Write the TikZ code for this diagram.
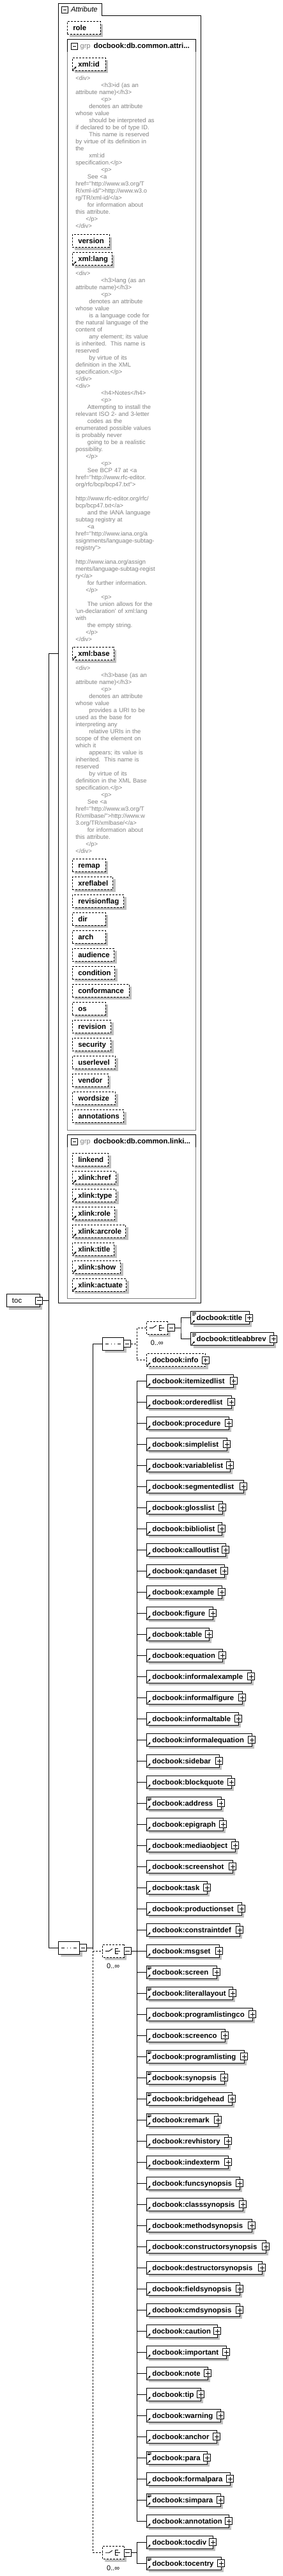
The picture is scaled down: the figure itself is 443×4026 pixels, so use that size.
\documentclass[tikz,border=0pt]{standalone}
\usepackage{fontspec}
\setmainfont{Liberation Sans}[Ligatures=TeXOff]
\usetikzlibrary{positioning,shapes.misc,shadows,arrows.meta}

\definecolor{shadowgray}{RGB}{192,192,192}
\definecolor{docgray}{RGB}{128,128,128}

\newcommand\indA{\hspace*{21pt}}
\newcommand\indB{\hspace*{18.5pt}}
\newcommand\indP{\hspace*{16pt}}
\newcommand\indH{\hspace*{40pt}}

% marks inside the boxes
\newcommand\refmark[1]{\draw[line width=0.9pt, -{Triangle[length=2.6pt,width=3pt]}] ([xshift=1.2pt,yshift=1.2pt]#1.south west) -- ++(5,-5);}
\newcommand\txtmark[1]{\draw[line width=0.6pt] ([xshift=2pt,yshift=-2pt]#1.north west) -- ++(6,0) ([xshift=2pt,yshift=-3.6pt]#1.north west) -- ++(6,0) ([xshift=2pt,yshift=-5.2pt]#1.north west) -- ++(4,0);}

\begin{document}
\begin{tikzpicture}
	[
	x=1pt, y=-1pt,
	inner sep=0pt, outer sep=0pt,
	line width=0.9pt,
	boxshadow/.style={drop shadow={shadow xshift=4pt, shadow yshift=-4pt, fill=shadowgray, opacity=1}},
	elem/.style={draw, fill=white, minimum height=20pt, anchor=west, boxshadow},
	attr/.style={elem, dash pattern=on 3pt off 2pt, anchor=north west},
	optline/.style={dash pattern=on 3pt off 2pt},
	lbl/.style={anchor=west, text height=8pt, text depth=0pt, font=\bfseries\fontsize{11.4}{13}\selectfont},
	head/.style={anchor=base west, font=\bfseries\fontsize{11.4}{13}\selectfont},
	pm/.style={draw, fill=white, minimum size=11pt},
	minusbox/.style={pm, path picture={\draw ([xshift=2.3pt]path picture bounding box.west) -- ([xshift=-2.3pt]path picture bounding box.east);}},
	plusbox/.style={pm, path picture={\draw ([xshift=2.3pt]path picture bounding box.west) -- ([xshift=-2.3pt]path picture bounding box.east) ([yshift=-2.3pt]path picture bounding box.north) -- ([yshift=2.3pt]path picture bounding box.south);}},
	seq/.style={chamfered rectangle, chamfered rectangle xsep=5pt, draw, fill=white, minimum width=33.5pt, minimum height=19.5pt, boxshadow,
		path picture={
			\draw ([xshift=5pt]path picture bounding box.west) -- ([xshift=-4.5pt]path picture bounding box.east);
			\foreach \d in {-5,0,5} \fill ([xshift=\d pt]path picture bounding box.center) +(-1.6pt,-1.6pt) rectangle +(1.6pt,1.6pt);
		}},
	choice/.style={chamfered rectangle, chamfered rectangle xsep=5pt, draw, fill=white, optline, minimum width=33.5pt, minimum height=20pt, boxshadow,
		path picture={
			\path (path picture bounding box.center) coordinate (cc);
			\draw[solid] ([xshift=-12pt]cc) -- ([xshift=-6.5pt]cc) -- ([xshift=-1pt,yshift=3.8pt]cc);
			\foreach \d in {-4,0,4} \fill ([xshift=0.5pt,yshift=\d pt]cc) +(-1.5pt,-1.5pt) rectangle +(1.5pt,1.5pt);
			\draw[solid] ([xshift=7.5pt,yshift=4pt]cc) -- ([xshift=3.5pt,yshift=4pt]cc) -- ([xshift=3.5pt,yshift=-4pt]cc) -- ([xshift=7.5pt,yshift=-4pt]cc) ([xshift=3.5pt]cc) -- ([xshift=11pt]cc);
		}},
	occ/.style={font=\fontsize{11}{13}\selectfont, text height=8pt, text depth=0pt},
	doc/.style={anchor=north west, text width=185pt, align=left, text=docgray, font=\fontsize{9.4}{11}\selectfont}
	]
	\useasboundingbox (0,0) rectangle (443,4026);

	% attributes
	\draw (91.3,2036) -- (91.3,5.3) -- (159,5.3) -- (159,24.3) -- (314.7,24.3) -- (314.7,2036) -- cycle;
	\node (attm) [minusbox, minimum size=10pt] at (101.7,15.3) {};
	\node (attt) [anchor=base west, font=\itshape\fontsize{11.2}{13}\selectfont] at (111,18.7) {Attribute};
	\coordinate (attin) at (91.3,1021.7);

	\node (role) [attr, minimum width=51.7pt, anchor=north west] at (105.3,33.7) {};
	\node (rolet) [lbl] at ([xshift=9pt]role.west) {role};

	% group db.common.attributes
	\draw [docgray] (105.3,81) -- (105.3,1766) -- (306.3,1766) -- (306.3,81);
	\draw (105.3,81) -- (105.3,61.3) -- (306.3,61.3) -- (306.3,81);
	\node (gam) [minusbox, minimum size=10pt] at (116.3,72) {};
	\node (gak) [anchor=base west, text=docgray, font=\fontsize{11}{13}\selectfont] at (125.7,75) {grp};
	\node (gan) [head] at (146.7,75) {docbook:db.common.attri...};

	\node (xid) [attr, minimum width=51.7pt] at (113.3,90.3) {};
	\node (xidt) [lbl] at ([xshift=9pt]xid.west) {xml:id};
	\refmark{xid}
	\node (xiddoc) [doc] at (118.3,118.1) {\strut<div>\\
\indH<h3>id (as an\\
attribute name)</h3>\\
\indH<p>\\
\indA denotes an attribute\\
whose value\\
\indA should be interpreted as\\
if declared to be of type ID.\\
\indA This name is reserved\\
by virtue of its definition in\\
the\\
\indA xml:id\\
specification.</p>\\
\indH<p>\\
\indB See <a\\
href="http://www.w3.org/T\\
R/xml-id/">http://www.w3.o\\
rg/TR/xml-id/</a>\\
\indB for information about\\
this attribute.\\
\indP</p>\\
</div>};

	\node (ver) [attr, minimum width=57.7pt] at (113.3,366.7) {};
	\node (vert) [lbl] at ([xshift=9pt]ver.west) {version};

	\node (xlang) [attr, minimum width=61.7pt] at (113.3,394.7) {};
	\node (xlangt) [lbl] at ([xshift=9pt]xlang.west) {xml:lang};
	\refmark{xlang}
	\node (xlangdoc) [doc] at (118.3,422.5) {\strut<div>\\
\indH<h3>lang (as an\\
attribute name)</h3>\\
\indH<p>\\
\indA denotes an attribute\\
whose value\\
\indA is a language code for\\
the natural language of the\\
content of\\
\indA any element; its value\\
is inherited.\ \ This name is\\
reserved\\
\indA by virtue of its\\
definition in the XML\\
specification.</p>\\
</div>\\
<div>\\
\indH<h4>Notes</h4>\\
\indH<p>\\
\indB Attempting to install the\\
relevant ISO 2- and 3-letter\\
\indB codes as the\\
enumerated possible values\\
is probably never\\
\indB going to be a realistic\\
possibility.\\
\indP</p>\\
\indH<p>\\
\indB See BCP 47 at <a\\
href="http://www.rfc-editor.\\
org/rfc/bcp/bcp47.txt">\\
\mbox{}\\
http://www.rfc-editor.org/rfc/\\
bcp/bcp47.txt</a>\\
\indB and the IANA language\\
subtag registry at\\
\indB <a\\
href="http://www.iana.org/a\\
ssignments/language-subtag-\\
registry">\\
\mbox{}\\
http://www.iana.org/assign\\
ments/language-subtag-regist\\
ry</a>\\
\indB for further information.\\
\indP</p>\\
\indH<p>\\
\indB The union allows for the\\
'un-declaration' of xml:lang\\
with\\
\indB the empty string.\\
\indP</p>\\
</div>};

	\node (xbase) [attr, minimum width=65pt] at (113.3,1011.7) {};
	\node (xbaset) [lbl] at ([xshift=9pt]xbase.west) {xml:base};
	\refmark{xbase}
	\node (xbasedoc) [doc] at (118.3,1039.5) {\strut<div>\\
\indH<h3>base (as an\\
attribute name)</h3>\\
\indH<p>\\
\indA denotes an attribute\\
whose value\\
\indA provides a URI to be\\
used as the base for\\
interpreting any\\
\indA relative URIs in the\\
scope of the element on\\
which it\\
\indA appears; its value is\\
inherited.\ \ This name is\\
reserved\\
\indA by virtue of its\\
definition in the XML Base\\
specification.</p>\\
\indH<p>\\
\indB See <a\\
href="http://www.w3.org/T\\
R/xmlbase/">http://www.w\\
3.org/TR/xmlbase/</a>\\
\indB for information about\\
this attribute.\\
\indP</p>\\
</div>};

	\foreach \nm/\rt [count=\i from 0] in {remap/165, xreflabel/176.7, revisionflag/193.7, dir/165, arch/165, audience/178.7, condition/179.7, conformance/202, os/165, revision/173.7, security/173.7, userlevel/180.7, vendor/169, wordsize/180.7, annotations/193.7}{
		\node (ga\i) [attr, minimum width=\rt-113.3] at (113.3,1342.3+28*\i) {};
		\node (gat\i) [lbl] at ([xshift=9pt]ga\i.west) {\nm};
	}

	% group db.common.linking.attributes
	\draw [docgray] (105.3,1793) -- (105.3,2029.3) -- (306.3,2029.3) -- (306.3,1793);
	\draw (105.3,1793) -- (105.3,1773.3) -- (306.3,1773.3) -- (306.3,1793);
	\node (gbm) [minusbox, minimum size=10pt] at (116.3,1784) {};
	\node (gbk) [anchor=base west, text=docgray, font=\fontsize{11}{13}\selectfont] at (125.7,1787) {grp};
	\node (gbn) [head] at (146.7,1787) {docbook:db.common.linki...};
	\foreach \nm/\rt/\fl [count=\i from 0] in {linkend/169.7/0, xlink:href/181.7/1, xlink:type/181.7/1, xlink:role/179.7/1, xlink:arcrole/196.7/1, xlink:title/178.7/1, xlink:show/188.7/1, xlink:actuate/197.7/1}{
		\node (gb\i) [attr, minimum width=\rt-113.3] at (113.3,1802.3+28*\i) {};
		\node (gbt\i) [lbl] at ([xshift=9pt]gb\i.west) {\nm};
		\ifnum\fl=1 \refmark{gb\i}\fi
	}

	% toc and its sequence
	\node (toc) [elem, anchor=north west, minimum width=51.7pt, minimum height=20.4pt] at (10.3,2022.3) {};
	\node (toct) [lbl, font=\fontsize{11.4}{13}\selectfont] at ([xshift=8.7pt]toc.west) {toc};
	\node (tocm) [minusbox] at ([xshift=-0.7pt]toc.east) {};

	\node (mseq) [seq] at (108,3044.3) {};
	\node (mseqm) [minusbox, anchor=west] at (mseq.east) {};
	\coordinate (tb) at (76.7,2032.7);
	\coordinate (mb) at (145.3,3044.3);
	\draw (tocm.east) -- (tb);
	\draw (attin) -| (tb) |- (mseq.west);

	% title part
	\node (s1) [seq] at (177,2100.3) {};
	\node (s1m) [minusbox, anchor=west] at (s1.east) {};
	\draw (s1.west) -| (mb) -- (mseqm.east);

	\node (ch1) [choice] at (245.8,2075.3) {};
	\node (ch1m) [minusbox, anchor=west] at (ch1.east) {};
	\node (ch1n) [occ, below=9.3pt of ch1] {0..∞};

	\node (title) [elem, minimum width=91.6pt] at (298.7,2059.7) {};
	\node (titlet) [lbl] at ([xshift=9pt]title.west) {docbook:title};
	\node (titlep) [plusbox] at (title.east) {};
	\txtmark{title} \refmark{title}
	\node (tabbr) [elem, minimum width=129.6pt] at (298.7,2092.7) {};
	\node (tabbrt) [lbl] at ([xshift=9pt]tabbr.west) {docbook:titleabbrev};
	\node (tabbrp) [plusbox] at (tabbr.east) {};
	\txtmark{tabbr} \refmark{tabbr}

	\node (info) [elem, optline, minimum width=92.4pt] at (229.3,2125.7) {};
	\node (infot) [lbl] at ([xshift=9pt]info.west) {docbook:info};
	\node (infop) [plusbox] at (info.east) {};
	\refmark{info}

	\coordinate (sb) at (214.3,2100.3);
	\coordinate (cb) at (283,2075.3);
	\draw [optline] (s1m.east) -- (sb);
	\draw [optline] (ch1.west) -| (sb) |- (info.west);
	\draw (ch1m.east) -- (cb);
	\draw (title.west) -| (cb) |- (tabbr.west);

	% block choice
	\node (ch2) [choice] at (177.2,3049.3) {};
	\node (ch2m) [minusbox, anchor=west] at (ch2.east) {};
	\node (ch2n) [occ, below=9.3pt of ch2] {0..∞};
	\coordinate (lb) at (214.3,3049.3);
	\draw [optline] (mb) |- (ch2.west);
	\draw (ch2m.east) -- (lb);

	\foreach \nm/\rt/\fl [count=\i from 0] in {itemizedlist/365.7/0, orderedlist/362.3/0, procedure/358.3/0, simplelist/355.3/0, variablelist/360.3/0, segmentedlist/381.3/0, glosslist/348.3/0, bibliolist/347.3/0, calloutlist/353.3/0, qandaset/351.3/0, example/347.3/0, figure/333.3/0, table/327.3/0, equation/348.3/0, informalexample/393.3/0, informalfigure/379.3/0, informaltable/373.3/0, informalequation/394.3/0, sidebar/343.3/0, blockquote/362.3/0, address/346/1, epigraph/349.3/0, mediaobject/368.3/0, screenshot/364.3/0, task/324.3/0, productionset/378.3/0, constraintdef/375.3/0, msgset/343.3/0, screen/339.3/1, literallayout/364.3/1, programlistingco/395.3/0, screenco/352.3/0, programlisting/382.3/1, synopsis/351.3/1, bridgehead/363.3/1, remark/341.3/1, revhistory/357.3/0, indexterm/357.3/0, funcsynopsis/375.3/0, classsynopsis/380.3/0, methodsynopsis/394.3/0, constructorsynopsis/416.3/0, destructorsynopsis/410.3/0, fieldsynopsis/375.3/0, cmdsynopsis/375.3/0, caution/340.3/0, important/354.3/0, note/325.3/0, tip/314.3/0, warning/345.3/0, anchor/339.3/0, para/324.3/1, formalpara/360.3/0, simpara/345.3/1, annotation/358.3/0}{
		\node (e\i) [elem, minimum width=\rt-229.3] at (229.3,2158.3+33*\i) {};
		\node (et\i) [lbl] at ([xshift=9pt]e\i.west) {docbook:\nm};
		\node (ep\i) [plusbox] at (e\i.east) {};
		\coordinate (j\i) at (214.3,2158.3+33*\i);
		\draw (j\i) -- (e\i.west);
		\refmark{e\i}
		\ifnum\fl=1 \txtmark{e\i}\fi
	}
	\draw (j0) -- (j54);

	% toc entries
	\node (ch3) [choice] at (177.2,3989.7) {};
	\node (ch3m) [minusbox, anchor=west] at (ch3.east) {};
	\node (ch3n) [occ, below=9.3pt of ch3] {0..∞};
	\draw [optline] (mb) |- (ch3.west);

	\node (tdiv) [elem, minimum width=104pt] at (229.3,3973.3) {};
	\node (tdivt) [lbl] at ([xshift=9pt]tdiv.west) {docbook:tocdiv};
	\node (tdivp) [plusbox] at (tdiv.east) {};
	\refmark{tdiv}
	\node (tent) [elem, minimum width=117pt] at (229.3,4006.3) {};
	\node (tentt) [lbl] at ([xshift=9pt]tent.west) {docbook:tocentry};
	\node (tentp) [plusbox] at (tent.east) {};
	\refmark{tent} \txtmark{tent}

	\coordinate (kb) at (214.3,3989.7);
	\draw (ch3m.east) -- (kb);
	\draw (tdiv.west) -| (kb) |- (tent.west);
\end{tikzpicture}
\end{document}
